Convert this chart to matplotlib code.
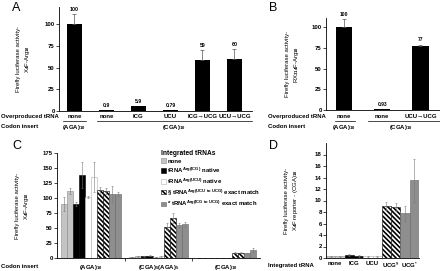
import matplotlib
matplotlib.use("Agg")
import matplotlib.pyplot as plt
import matplotlib.transforms as mtransforms
from matplotlib.patches import Patch
import numpy as np

plt.rcParams['font.family'] = ['Liberation Sans', 'DejaVu Sans']
plt.rcParams['font.weight'] = 'bold'
plt.rcParams['mathtext.fontset'] = 'custom'
plt.rcParams['mathtext.rm'] = 'Liberation Sans:bold'
plt.rcParams['mathtext.it'] = 'Liberation Sans:bold'
plt.rcParams['mathtext.bf'] = 'Liberation Sans:bold'
plt.rcParams['mathtext.default'] = 'rm'
plt.rcParams['hatch.linewidth'] = 1.2

# ---- panel A data
a_trna = ['none', 'none', 'ICG', 'UCU', 'ICG→UCG', 'UCU→UCG']
a_vals = [100, 0.9, 5.9, 0.79, 59, 60]
a_err = [11, 0, 0, 0, 11, 11]
a_lbls = ['100', '0.9', '5.9', '0.79', '59', '60']

# ---- panel B data
b_trna = ['none', 'none', 'UCU→UCG']
b_vals = [100, 0.93, 77]
b_err = [10, 0, 2]
b_lbls = ['100', '0.93', '77']

# ---- panel C data (5 integrated tRNAs x 2 replicates, per codon insert)
c_groups = ['(AGA)$_{10}$', '(CGA)$_5$(AGA)$_5$', '(CGA)$_{10}$']
c_vals = [
    [90, 112, 90, 138, 102, 135, 113, 112, 107, 107],
    [2, 3, 3, 4, 2, 3, 52, 67, 55, 56],
    [0.3, 0.3, 0.5, 0.4, 0.3, 0.3, 9.1, 8.9, 7.8, 13.5],
]
c_err = [
    [12, 5, 3, 22, 2, 25, 6, 5, 13, 3],
    [0.5, 0.5, 1, 1, 0.5, 0.5, 6, 8, 4, 4],
    [0.1, 0.1, 0.2, 0.2, 0.1, 0.1, 0.7, 0.7, 1.3, 3.8],
]
legend_lbls = ['none',
               'tRNA$^{\\mathrm{Arg(ICG)}}$ native',
               'tRNA$^{\\mathrm{Arg(UCU)}}$ native',
               '§ tRNA$^{\\mathrm{Arg(UCU\\ to\\ UCG)}}$ exact match',
               '* tRNA$^{\\mathrm{Arg(ICG\\ to\\ UCG)}}$ exact match']

# ---- panel D data
d_trna = ['none', 'ICG', 'UCU', 'UCG$^{§}$', 'UCG$^{*}$']
d_vals = [0.3, 0.3, 0.5, 0.4, 0.3, 0.3, 9.1, 8.9, 7.8, 13.5]
d_err = [0.1, 0.1, 0.15, 0.15, 0.1, 0.1, 0.7, 0.7, 1.3, 3.8]

faces = ['#c4c4c4', 'black', 'white', 'white', '#8e8e8e']
edges = ['#8a8a8a', 'black', '#b0b0b0', 'black', '#666666']
hatches = [None, None, None, '\\' * 7, None]

FS = 4.3


def box(l, t, r, b):
    return [l / 440, 1 - b / 271, (r - l) / 440, (b - t) / 271]


def style(ax):
    for s in ['top', 'right']:
        ax.spines[s].set_visible(False)
    for s in ['left', 'bottom']:
        ax.spines[s].set_linewidth(0.6)
    ax.tick_params(labelsize=FS, length=2, width=0.5, pad=1)


fig = plt.figure(figsize=(4.4, 2.71), dpi=100)

# ================= A
axA = fig.add_axes(box(59, 6.6, 252, 111))
style(axA)
xa = np.arange(len(a_vals))
axA.bar(xa, a_vals, width=0.47, color='black')
for x, v, e, t in zip(xa, a_vals, a_err, a_lbls):
    if e > 0:
        axA.errorbar(x, v, yerr=[[0], [e]], fmt='none', ecolor='#555555',
                     elinewidth=0.5, capsize=1.5, capthick=0.5)
    axA.annotate(t, (x, v + e), xytext=(0, 1.5), textcoords='offset points',
                 ha='center', va='bottom', fontsize=3.8)
axA.set_ylim(0, 120)
axA.set_yticks([0, 25, 50, 75, 100])
axA.set_xlim(-0.48, 5.55)
axA.set_xticks([])
axA.set_ylabel('Firefly luciferase activity-\nX$_4$F-Arg$_{10}$', fontsize=FS,
               linespacing=1.3)
axA.yaxis.set_label_coords(-0.14, 0.5)
trA = mtransforms.blended_transform_factory(axA.transData, axA.transAxes)
for x, t in zip(xa, a_trna):
    axA.text(x, -0.057, t, transform=trA, ha='center', va='center', fontsize=FS)
axA.plot([-0.35, 0.35], [-0.1, -0.1], transform=trA, color='black', lw=0.5, clip_on=False)
axA.plot([0.7, 5.55], [-0.1, -0.1], transform=trA, color='black', lw=0.5, clip_on=False)
axA.text(0, -0.155, '(AGA)$_{10}$', transform=trA, ha='center', va='center', fontsize=FS)
axA.text(3.1, -0.155, '(CGA)$_{10}$', transform=trA, ha='center', va='center', fontsize=FS)
fig.text(1 / 440, 1 - 117 / 271, 'Overproduced tRNA', fontsize=FS, va='center')
fig.text(1 / 440, 1 - 127 / 271, 'Codon insert', fontsize=FS, va='center')
fig.text(12 / 440, 1 - 8 / 271, 'A', fontsize=9, weight='normal', va='center')

# ================= B
axB = fig.add_axes(box(326, 18, 440, 110))
style(axB)
xb = np.arange(len(b_vals))
axB.bar(xb, b_vals, width=0.42, color='black')
for x, v, e, t in zip(xb, b_vals, b_err, b_lbls):
    if e > 0:
        axB.errorbar(x, v, yerr=[[0], [e]], fmt='none', ecolor='#555555',
                     elinewidth=0.5, capsize=1.5, capthick=0.5)
    axB.annotate(t, (x, v + e), xytext=(0, 1.5), textcoords='offset points',
                 ha='center', va='bottom', fontsize=3.6)
axB.set_ylim(0, 111)
axB.set_yticks([0, 25, 50, 75, 100])
axB.set_xlim(-0.47, 2.51)
axB.set_xticks([])
axB.set_ylabel('Firefly luciferase activity-\nRX$_{314}$F-Arg$_{10}$', fontsize=FS,
               linespacing=1.3)
axB.yaxis.set_label_coords(-0.22, 0.5)
trB = mtransforms.blended_transform_factory(axB.transData, axB.transAxes)
for x, t in zip(xb, b_trna):
    axB.text(x, -0.076, t, transform=trB, ha='center', va='center', fontsize=FS)
axB.plot([-0.24, 0.29], [-0.12, -0.12], transform=trB, color='black', lw=0.5, clip_on=False)
axB.plot([0.63, 2.51], [-0.12, -0.12], transform=trB, color='black', lw=0.5, clip_on=False)
axB.text(0, -0.19, '(AGA)$_{10}$', transform=trB, ha='center', va='center', fontsize=FS)
axB.text(1.5, -0.19, '(CGA)$_{10}$', transform=trB, ha='center', va='center', fontsize=FS)
fig.text(268 / 440, 1 - 117 / 271, 'Overproduced tRNA', fontsize=FS, va='center')
fig.text(268 / 440, 1 - 127 / 271, 'Codon insert', fontsize=FS, va='center')
fig.text(269 / 440, 1 - 8 / 271, 'B', fontsize=9, weight='normal', va='center')

# ================= C
axC = fig.add_axes(box(57, 153, 260, 258))
style(axC)
bw = 0.088
for g, (vals, errs) in enumerate(zip(c_vals, c_err)):
    for j in range(10):
        k = j // 2
        x = g + (j - 4.5) * bw
        axC.bar(x, vals[j], width=bw, color=faces[k], edgecolor=edges[k],
                linewidth=0.4, hatch=hatches[k])
        axC.errorbar(x, vals[j], yerr=errs[j], fmt='none', ecolor='#777777',
                     elinewidth=0.4, capsize=1, capthick=0.4)
axC.set_ylim(0, 175)
axC.set_yticks(np.arange(0, 176, 25))
axC.set_xlim(-0.5, 2.5)
axC.set_xticks([0.5, 1.5])
axC.set_xticklabels([])
axC.tick_params(axis='x', length=2)
axC.set_ylabel('Firefly luciferase activity-\nX$_4$F-Arg$_{10}$', fontsize=FS,
               linespacing=1.3)
axC.yaxis.set_label_coords(-0.13, 0.5)
trC = mtransforms.blended_transform_factory(axC.transData, axC.transAxes)
for g, t in enumerate(c_groups):
    axC.text(g, -0.087, t, transform=trC, ha='center', va='center', fontsize=FS)
fig.text(1 / 440, 1 - 267 / 271, 'Codon insert', fontsize=FS, va='center')
fig.text(12 / 440, 1 - 146 / 271, 'C', fontsize=9, weight='normal', va='center')
handles = [Patch(facecolor=faces[k], edgecolor=edges[k], hatch=hatches[k], linewidth=0.4)
           for k in range(5)]
leg = axC.legend(handles, legend_lbls, title='Integrated tRNAs', loc='upper left',
                 bbox_to_anchor=(0.5, 1.06), frameon=False, fontsize=FS,
                 title_fontsize=4.8, handlelength=0.7, handleheight=0.7,
                 handletextpad=0.3, labelspacing=0.3, borderpad=0,
                 alignment='left')
leg.get_title().set_fontweight('bold')

# ================= D
axD = fig.add_axes(box(326, 143, 419, 258))
style(axD)
for j in range(10):
    k = j // 2
    x = k + (j % 2 - 0.5) * 0.5
    axD.bar(x, d_vals[j], width=0.5, color=faces[k], edgecolor=edges[k],
            linewidth=0.4, hatch=hatches[k])
    axD.errorbar(x, d_vals[j], yerr=d_err[j], fmt='none', ecolor='#777777',
                 elinewidth=0.4, capsize=1, capthick=0.4)
axD.set_ylim(0, 20)
axD.set_yticks(np.arange(0, 19, 2))
axD.set_xlim(-0.5, 4.5)
axD.set_xticks(np.arange(5))
axD.set_xticklabels(d_trna)
axD.tick_params(axis='x', length=0, pad=2)
axD.set_ylabel('Firefly luciferase activity-\nX$_4$F reporter - (CGA)$_{10}$', fontsize=FS,
               linespacing=1.3)
axD.yaxis.set_label_coords(-0.28, 0.5)
fig.text(268 / 440, 1 - 265 / 271, 'Integrated tRNA', fontsize=FS, va='center')
fig.text(269 / 440, 1 - 146 / 271, 'D', fontsize=9, weight='normal', va='center')

fig.savefig('out.png', dpi=100)
